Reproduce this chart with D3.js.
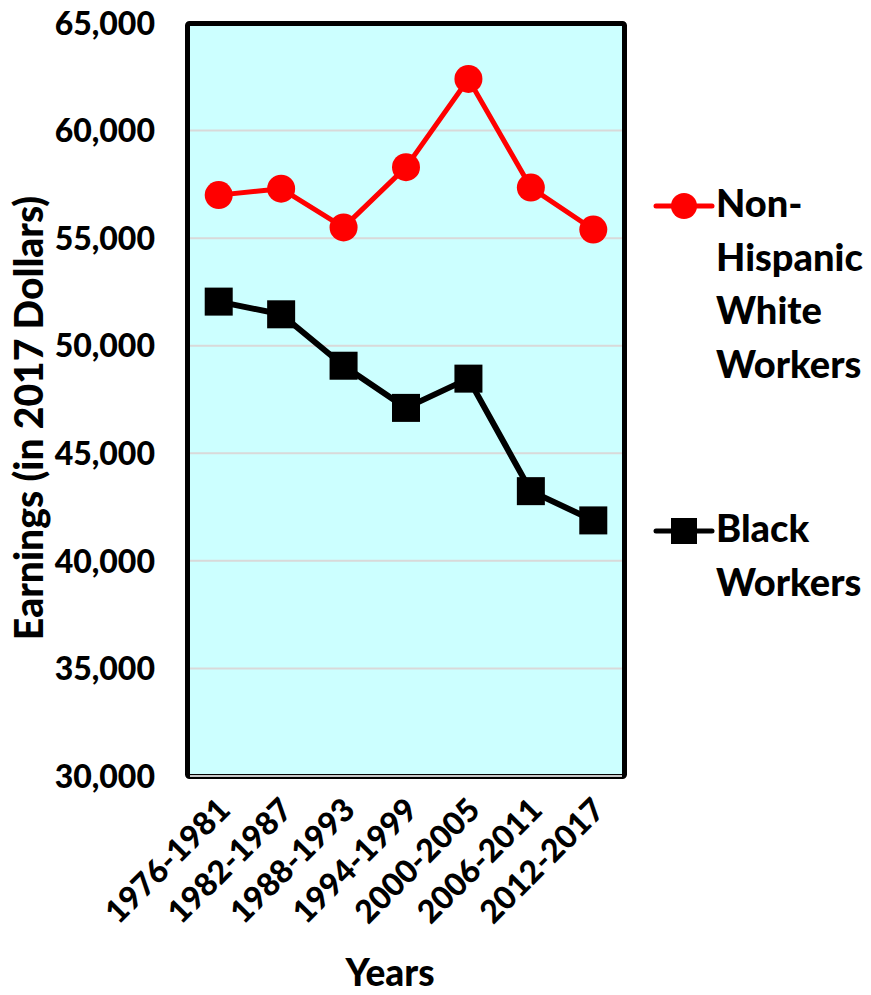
<!DOCTYPE html>
<html>
<head>
<meta charset="utf-8">
<script src="https://cdn.jsdelivr.net/npm/d3@7"></script>
<style>
  html, body { margin: 0; padding: 0; background: #fff; }
  svg { display: block; }
  text { font-family: Lato, "Open Sans", sans-serif; font-weight: 900; fill: #000; }
</style>
</head>
<body>
<svg id="chart" width="871" height="995"></svg>
<script>
// Median earnings by period, in 2017 dollars
const periods = ["1976-1981", "1982-1987", "1988-1993", "1994-1999", "2000-2005", "2006-2011", "2012-2017"];
const whiteEarnings = [57000, 57300, 55500, 58300, 62400, 57350, 55400];
const blackEarnings = [52050, 51460, 49070, 47110, 48470, 43240, 41880];
const yTicks = [30000, 35000, 40000, 45000, 50000, 55000, 60000, 65000];
const whiteLabel = ["Non-", "Hispanic", "White", "Workers"];
const blackLabel = ["Black", "Workers"];

const svg = d3.select("#chart");
const plot = { left: 187.5, right: 624.5, top: 23, bottom: 776 };

const x = d3.scalePoint().domain(periods).range([plot.left, plot.right]).padding(0.5);
const y = d3.scaleLinear().domain([30000, 65000]).range([plot.bottom, plot.top]);

// plot background
svg.append("rect")
  .attr("x", plot.left).attr("y", plot.top)
  .attr("width", plot.right - plot.left).attr("height", plot.bottom - plot.top)
  .attr("fill", "#ccffff");

// horizontal gridlines
svg.append("g").selectAll("line").data(yTicks.slice(1, -1)).join("line")
  .attr("x1", plot.left).attr("x2", plot.right)
  .attr("y1", d => y(d)).attr("y2", d => y(d))
  .attr("stroke", "#d9d9d9").attr("stroke-width", 2);

// frame
svg.append("rect")
  .attr("x", plot.left).attr("y", plot.top + 0.5)
  .attr("width", plot.right - plot.left).attr("height", plot.bottom - plot.top)
  .attr("fill", "none").attr("stroke", "#000").attr("stroke-width", 5)
  .attr("rx", 2);
svg.append("line")
  .attr("x1", plot.left + 2.5).attr("x2", plot.right - 2.5)
  .attr("y1", y(30000)).attr("y2", y(30000))
  .attr("stroke", "#c8c8c8").attr("stroke-width", 2);

// y axis tick labels
const yAxis = d3.axisLeft(y).tickValues(yTicks).tickSize(0).tickPadding(0)
  .tickFormat(d3.format(","));
svg.append("g").attr("transform", `translate(155,0)`).call(yAxis)
  .call(g => g.select(".domain").remove())
  .selectAll("text")
  .attr("font-size", 32).attr("font-family", "Lato, sans-serif").attr("font-weight", 900)
  .attr("fill", "#000").attr("dy", "0.35em");

// x axis tick labels, rotated
const xAxis = d3.axisBottom(x).tickSize(0).tickPadding(0);
svg.append("g").attr("transform", `translate(0,${plot.bottom})`).call(xAxis)
  .call(g => g.select(".domain").remove())
  .selectAll("text")
  .attr("font-size", 32).attr("font-family", "Lato, sans-serif").attr("font-weight", 900)
  .attr("fill", "#000")
  .attr("text-anchor", "end")
  .attr("dy", null).attr("y", 0)
  .attr("transform", "translate(7,30) rotate(-45)")
  .attr("dominant-baseline", "middle");

// axis titles
svg.append("text")
  .attr("transform", "translate(33,418) rotate(-90)")
  .attr("text-anchor", "middle").attr("dominant-baseline", "middle")
  .attr("font-size", 39)
  .text("Earnings (in 2017 Dollars)");
svg.append("text")
  .attr("x", 390).attr("y", 986)
  .attr("text-anchor", "middle")
  .attr("font-size", 37)
  .text("Years");

// series lines
const line = d3.line().x((d, i) => x(periods[i])).y(d => y(d));
svg.append("path").datum(whiteEarnings).attr("d", line)
  .attr("fill", "none").attr("stroke", "#ff0000").attr("stroke-width", 5).attr("stroke-linejoin", "round");
svg.append("path").datum(blackEarnings).attr("d", line)
  .attr("fill", "none").attr("stroke", "#000").attr("stroke-width", 6).attr("stroke-linejoin", "round");

// markers
svg.append("g").selectAll("circle").data(whiteEarnings).join("circle")
  .attr("cx", (d, i) => x(periods[i])).attr("cy", d => y(d)).attr("r", 14)
  .attr("fill", "#ff0000");
const sq = 28;
svg.append("g").selectAll("rect").data(blackEarnings).join("rect")
  .attr("x", (d, i) => x(periods[i]) - sq / 2).attr("y", d => y(d) - sq / 2)
  .attr("width", sq).attr("height", sq).attr("fill", "#000");

// legend
const legend = svg.append("g");
function legendEntry(yPos, color, marker, lines) {
  const g = legend.append("g");
  g.append("line").attr("x1", 656).attr("x2", 712).attr("y1", yPos).attr("y2", yPos)
    .attr("stroke", color).attr("stroke-width", 5).attr("stroke-linecap", "round");
  if (marker === "circle") {
    g.append("circle").attr("cx", 684).attr("cy", yPos).attr("r", 13).attr("fill", color);
  } else {
    g.append("rect").attr("x", 684 - 13).attr("y", yPos - 13).attr("width", 26).attr("height", 26).attr("fill", color);
  }
  g.selectAll("text").data(lines).join("text")
    .attr("x", 716).attr("y", (d, i) => yPos + 11 + i * 53.5)
    .attr("font-size", 38)
    .text(d => d);
}
legendEntry(206, "#ff0000", "circle", whiteLabel);
legendEntry(531, "#000", "square", blackLabel);
</script>
</body>
</html>
